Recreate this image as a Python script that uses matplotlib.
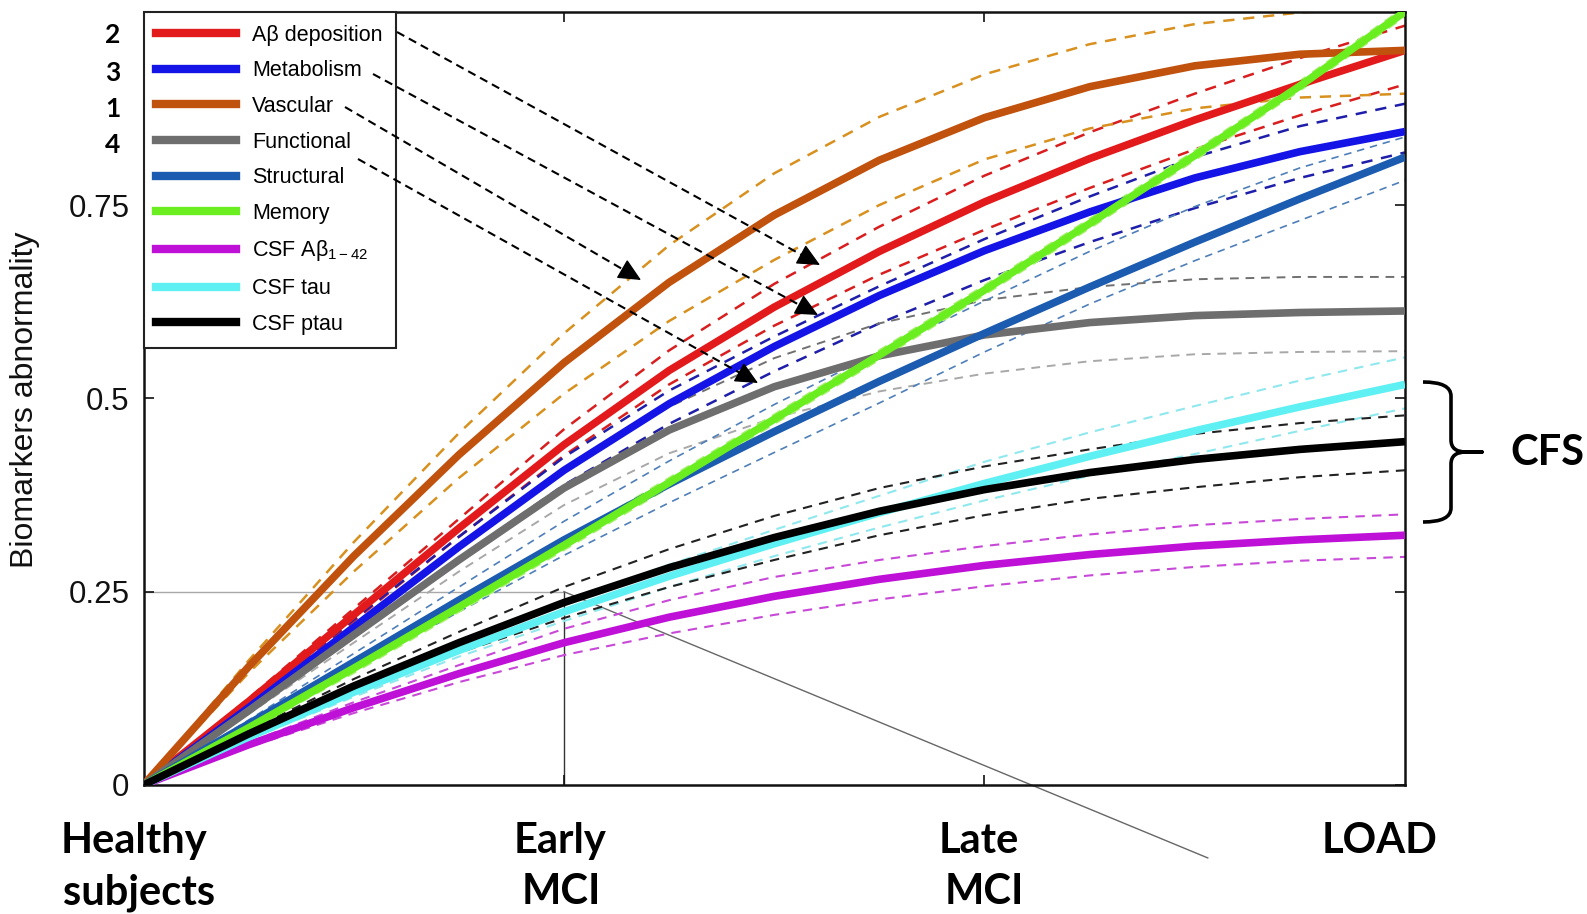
import matplotlib
matplotlib.use("Agg")
import matplotlib.pyplot as plt
from matplotlib.path import Path
from matplotlib.patches import PathPatch, FancyArrowPatch, ArrowStyle
from matplotlib.lines import Line2D

plt.rcParams['font.family'] = ['Liberation Sans', 'DejaVu Sans']
plt.rcParams['mathtext.fontset'] = 'custom'
plt.rcParams['mathtext.rm'] = 'Liberation Sans'
plt.rcParams['mathtext.it'] = 'Liberation Sans:italic'

# ---------------- data ----------------
stage_pos = [0, 0.25, 0.5, 0.75, 1, 1.25, 1.5, 1.75, 2, 2.25, 2.5, 2.75, 3]
stage_labels = [("Healthy", "subjects"), ("Early", "MCI"), ("Late", "MCI"), ("LOAD", "")]
ytick_vals = [0, 0.25, 0.5, 0.75, 1.0]
ytick_labels = ["0", "0.25", "0.5", "0.75", ""]

names = ["A\u03b2 deposition", "Metabolism", "Vascular", "Functional", "Structural",
         "Memory", "CSF A\u03b2$_{1-42}$", "CSF tau", "CSF ptau"]

abeta_mid = [0, .108, .220, .332, .440, .536, .618, .690, .754, .810, .860, .906, .950]
abeta_up = [0, .112, .228, .344, .460, .562, .648, .722, .788, .844, .894, .940, .982]
abeta_lo = [0, .104, .212, .321, .426, .518, .594, .660, .718, .772, .822, .866, .906]

metab_mid = [0, .100, .204, .308, .407, .493, .567, .633, .691, .741, .785, .819, .845]
metab_up = [0, .106, .214, .321, .424, .510, .580, .645, .706, .761, .812, .852, .881]
metab_lo = [0, .097, .195, .293, .388, .467, .535, .597, .653, .702, .746, .785, .818]

vasc_mid = [0, .153, .296, .427, .546, .650, .737, .808, .863, .903, .930, .945, .950]
vasc_up = [0, .161, .314, .455, .584, .698, .791, .864, .919, .958, .984, .999, 1.005]
vasc_lo = [0, .145, .276, .397, .506, .600, .679, .750, .809, .849, .875, .889, .894]

func_mid = [0, .096, .194, .291, .384, .459, .515, .555, .582, .598, .607, .611, .613]
func_up = [0, .100, .204, .307, .407, .489, .552, .597, .627, .644, .654, .657, .657]
func_lo = [0, .092, .184, .276, .362, .429, .475, .509, .532, .548, .557, .560, .561]

struct_mid = [0, .079, .159, .239, .317, .389, .457, .522, .584, .644, .702, .758, .812]
struct_up = [0, .084, .170, .256, .341, .419, .492, .560, .626, .690, .748, .798, .838]
struct_lo = [0, .074, .149, .224, .297, .365, .430, .494, .560, .622, .678, .730, .782]

memory_mid = [0, .074, .151, .230, .310, .391, .473, .556, .640, .726, .814, .904, 1.000]
memory_up = [0, .078, .157, .236, .316, .397, .479, .562, .646, .732, .820, .910, 1.006]
memory_lo = [0, .070, .145, .224, .304, .385, .467, .550, .634, .720, .808, .898, .994]

csfab_mid = [0, .052, .100, .144, .184, .217, .244, .266, .284, .298, .309, .317, .323]
csfab_up = [0, .055, .107, .155, .202, .239, .269, .291, .309, .324, .336, .344, .350]
csfab_lo = [0, .049, .093, .133, .168, .196, .220, .240, .257, .271, .282, .290, .295]

tau_mid = [0, .062, .120, .174, .224, .270, .312, .352, .390, .425, .458, .489, .518]
tau_up = [0, .065, .126, .183, .236, .285, .330, .374, .418, .456, .490, .523, .553]
tau_lo = [0, .059, .114, .166, .212, .256, .296, .333, .368, .400, .428, .458, .487]

ptau_mid = [0, .066, .128, .184, .236, .281, .320, .354, .382, .404, .421, .434, .444]
ptau_up = [0, .070, .137, .198, .256, .305, .348, .384, .412, .434, .454, .468, .478]
ptau_lo = [0, .063, .121, .171, .216, .256, .291, .323, .349, .370, .385, .398, .407]

order_numbers = ["2", "3", "1", "4"]

# ---------------- styles ----------------
solid_colors = ["#E31A1C", "#1414E6", "#C0520E", "#6E6E6E", "#1B5BB0",
                "#6AEE20", "#BE10D6", "#5EF0F2", "#000000"]
dash_up_colors = ["#D81E1E", "#1E1EAA", "#D8901E", "#707070", "#4F7FB8",
                  "#A8F070", "#C848D8", "#8FE8EE", "#222222"]
dash_lo_colors = ["#D81E1E", "#1E1EAA", "#D8901E", "#A8A8A8", "#4F7FB8",
                  "#A8F070", "#C848D8", "#8FE8EE", "#222222"]
dash_lw = [1.8, 1.8, 1.8, 1.4, 1.2, 1.6, 1.5, 1.5, 1.5]

mids = [abeta_mid, metab_mid, vasc_mid, func_mid, struct_mid, memory_mid, csfab_mid, tau_mid, ptau_mid]
ups = [abeta_up, metab_up, vasc_up, func_up, struct_up, memory_up, csfab_up, tau_up, ptau_up]
los = [abeta_lo, metab_lo, vasc_lo, func_lo, struct_lo, memory_lo, csfab_lo, tau_lo, ptau_lo]

W, H = 1587, 914
fig = plt.figure(figsize=(W / 100, H / 100), dpi=100)


def fx(px):
    return px / W


def fy(py):
    return 1 - py / H


ax = fig.add_axes([fx(143.5), fy(785), fx(1405) - fx(143.5), fy(11.7) - fy(785)])
ax.set_xlim(0, 3)
ax.set_ylim(0, 1)

# crosshair guide lines
ax.plot([0, 1], [0.25, 0.25], color="#a8a8a8", lw=1.0, zorder=1)
ax.plot([1, 1], [0, 0.25], color="#333333", lw=1.0, zorder=1)

# dashed confidence lines
for i in range(len(names)):
    ax.plot(stage_pos, ups[i], color=dash_up_colors[i], lw=dash_lw[i],
            linestyle=(0, (4.5, 3.5)), zorder=2)
    ax.plot(stage_pos, los[i], color=dash_lo_colors[i], lw=dash_lw[i],
            linestyle=(0, (4.5, 3.5)), zorder=2)

# solid mean lines
handles = []
for i in range(len(names)):
    ax.plot(stage_pos, mids[i], color=solid_colors[i], lw=5.5, zorder=3,
            solid_capstyle="butt", solid_joinstyle="round")
    handles.append(Line2D([], [], color=solid_colors[i], lw=6))

# axes styling
for s in ax.spines.values():
    s.set_linewidth(1.8)
    s.set_color("#111111")
ax.set_xticks([1, 2])
ax.set_xticklabels(["", ""])
ax.set_yticks(ytick_vals)
ax.set_yticklabels(ytick_labels, fontsize=22.5)
ax.tick_params(direction="in", length=7, width=1.2, top=True, right=True,
               pad=10, colors="#111111", labelcolor="#111111")

leg = ax.legend(handles, names, loc="upper left", bbox_to_anchor=(0, 1),
                borderaxespad=0, fontsize=15.5, handlelength=3.7, handletextpad=0.75,
                borderpad=0.6, labelspacing=0.68, fancybox=False, framealpha=1)
leg.get_frame().set_edgecolor("#222222")
leg.get_frame().set_linewidth(1.5)
leg.set_zorder(5)

# y label
fig.text(fx(25), fy(400), "Biomarkers abnormality", rotation=90, fontsize=23,
         ha="center", va="center", color="#111111")

# stage labels
stage_x = [(134, 139), (560, 561), (979, 984), (1380, 1380)]
for (l1, l2), (x1, x2) in zip(stage_labels, stage_x):
    fig.text(fx(x1), fy(853), l1, fontsize=30, fontweight="bold", family="Lato",
             ha="center", va="baseline")
    if l2:
        fig.text(fx(x2), fy(904), l2, fontsize=30, fontweight="bold", family="Lato",
                 ha="center", va="baseline")

# order numbers
num_base = [43, 81, 117, 153]
for n, b in zip(order_numbers, num_base):
    fig.text(fx(113), fy(b), n, fontsize=19, fontweight="bold", family="Lato",
             ha="center", va="baseline")

# dashed arrows from legend entries
arrows = [((397, 32), (820, 265)), ((373, 74), (818, 315)),
          ((345, 107), (641, 280)), ((358, 159), (758, 383))]
for (x0, y0), (x1, y1) in arrows:
    dx, dy = x1 - x0, y1 - y0
    L = (dx ** 2 + dy ** 2) ** 0.5
    ex, ey = x1 - dx / L * 10, y1 - dy / L * 10
    fig.add_artist(Line2D([fx(x0), fx(ex)], [fy(y0), fy(ey)],
                          transform=fig.transFigure, color="black", lw=1.5,
                          linestyle=(0, (4, 2.5))))
    sx, sy = x1 - dx / L * 20, y1 - dy / L * 20
    fig.add_artist(FancyArrowPatch((fx(sx), fy(sy)), (fx(x1), fy(y1)),
                                   transform=fig.transFigure,
                                   arrowstyle=ArrowStyle("-|>", head_length=0.95, head_width=0.45),
                                   mutation_scale=15, color="black", lw=1.0,
                                   shrinkA=0, shrinkB=0))

# thin diagonal pointer line from the crosshair
ax.plot([1, 2.531], [0.25, -0.0943], color="#666666", lw=1.0, clip_on=False, zorder=1)


# CFS brace
def P(x, y):
    return (fx(x), fy(y))


verts = [P(1423, 382), P(1451, 382), P(1451, 396), P(1451, 440), P(1451, 452), P(1466, 452),
         P(1482, 452),
         P(1466, 452), P(1451, 452), P(1451, 464), P(1451, 508), P(1451, 522), P(1423, 522)]
codes = [Path.MOVETO, Path.CURVE3, Path.CURVE3, Path.LINETO, Path.CURVE3, Path.CURVE3,
         Path.LINETO,
         Path.LINETO, Path.CURVE3, Path.CURVE3, Path.LINETO, Path.CURVE3, Path.CURVE3]
fig.add_artist(PathPatch(Path(verts, codes), transform=fig.transFigure, fill=False,
                         lw=2.6, edgecolor="black", capstyle="butt", joinstyle="round"))
fig.text(fx(1547), fy(465), "CFS", fontsize=30, fontweight="bold", family="Lato",
         ha="center", va="baseline")

fig.savefig("out.png", dpi=100)
